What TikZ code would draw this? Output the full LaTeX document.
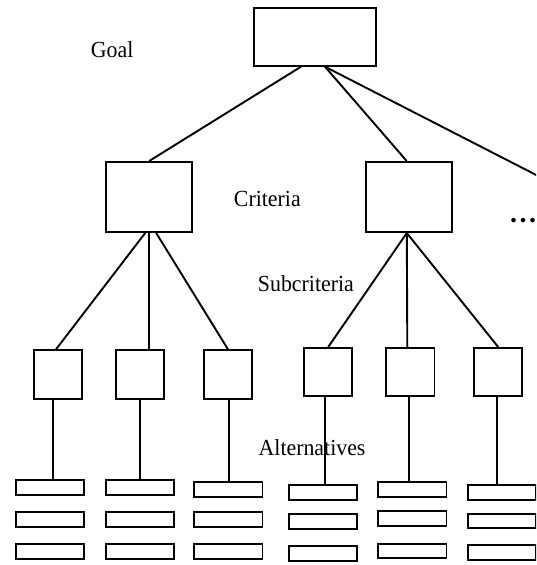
\documentclass[tikz,border=0pt]{standalone}
\usepackage{fontspec}
\setmainfont{Liberation Serif}
\newfontfamily\lvlfont[FakeStretch=0.95]{Liberation Serif}
\usepackage{tikz}

\begin{document}
\begin{tikzpicture}[
    x=1pt,y=-1pt,line width=1.9pt,
    box/.style={draw, inner sep=0pt},
    goalbox/.style={box, minimum width=122.1pt, minimum height=58.1pt},
    critbox/.style={box, minimum width=86.1pt, minimum height=70.1pt},
    subbox/.style={box, minimum width=48.4pt, minimum height=48.4pt},
    altbox/.style={box, minimum width=68.4pt, minimum height=14.8pt},
    lvl/.style={inner sep=0pt, anchor=base west, font=\lvlfont\fontsize{23}{26}\selectfont}
    ]
    \path[use as bounding box] (0, 0) rectangle (536, 565);
    \clip (0, 0) rectangle (536, 565);
    % levels
    \node[lvl] (goaltxt) at (90, 57.5) {Goal};
    \node[lvl] (crittxt) at (233, 206.5) {Criteria};
    \node[lvl] (subtxt) at (257, 291.5) {Subcriteria};
    % boxes
    \node[goalbox] (goal) at (315.3, 36.7) {};
    \node[critbox] (c1) at (149.2, 197) {};
    \node[critbox] (c2) at (409.3, 197) {};
    \node[subbox] (s1) at (58, 374.5) {};
    \node[subbox] (s2) at (140.2, 374.5) {};
    \node[subbox] (s3) at (228, 374.5) {};
    \node[subbox] (s4) at (328.2, 372.2) {};
    \node[subbox] (s5) at (410.3, 372.2) {};
    \node[subbox] (s6) at (498.2, 372.2) {};
    \foreach \i/\x/\ya/\yb/\yc in {1/50.2/487.7/519.3/551.5, 2/140.2/487.7/519.3/551.5,
        3/228.3/489.3/519.5/551.7, 4/323.2/492.7/521.3/553.3,
        5/412.3/489.3/518.8/551, 6/502/492.2/521/552.7} {
      \node[altbox] (a\i1) at (\x, \ya) {};
      \node[altbox] (a\i2) at (\x, \yb) {};
      \node[altbox] (a\i3) at (\x, \yc) {};
    }
    \coordinate (more) at (560, 187.2);
    \node[inner sep=0pt, anchor=base, font=\fontsize{28}{30}\selectfont\bfseries] (dots) at (523.2, 222) {.\kern2.5pt.\kern2.5pt.};
    % goal to criteria
    \draw ([xshift=-14.3pt]goal.south) -- (c1.north);
    \draw ([xshift=9.7pt]goal.south) -- ([xshift=-2.6pt]c2.north);
    \draw ([xshift=9.7pt]goal.south) -- (more);
    % criteria to subcriteria
    \draw ([xshift=-4pt]c1.south) -- ([xshift=-2pt]s1.north);
    \draw (c1.south) -- ([xshift=9pt]s2.north);
    \draw ([xshift=7pt]c1.south) -- (s3.north);
    \draw ([xshift=-2.5pt]c2.south) -- (s4.north);
    \draw ([xshift=-2.5pt]c2.south) -- ([xshift=-3pt]s5.north);
    \draw ([xshift=-2.5pt]c2.south) -- (s6.north);
    % subcriteria to alternatives
    \foreach \i/\dx in {1/-5, 2/0, 3/1, 4/-3, 5/-1, 6/-1}
      \draw ([xshift=\dx pt]s\i.south) -- ([xshift=\dx pt]s\i.south |- a\i1.north);
    \node[lvl] (alttxt) at (257.7, 455) {Alternatives};
\end{tikzpicture}
\end{document}
